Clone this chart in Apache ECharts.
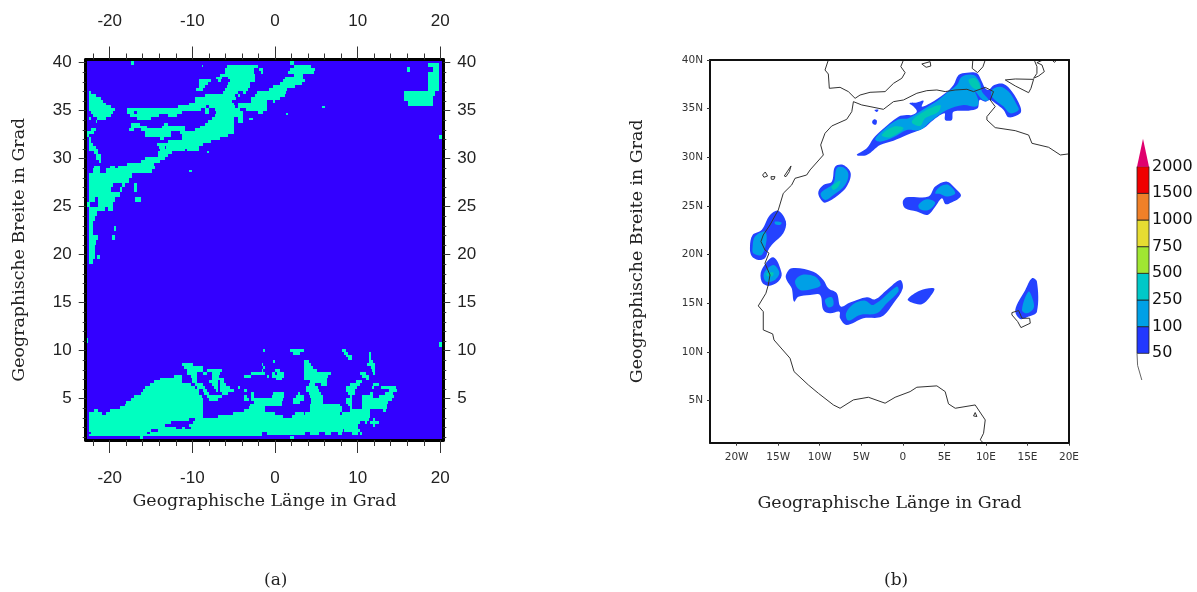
<!DOCTYPE html>
<html><head><meta charset="utf-8">
<script src="https://cdn.jsdelivr.net/npm/echarts@6/dist/echarts.min.js"></script>
<style>html,body{margin:0;background:#fff}#c{width:1197px;height:592px}</style></head>
<body><div id="c"></div>
<script>
// ---------- panel (a): teal cells, each row = [top latitude, lon from, lon to, lon from, lon to, ...]
const fineStep = 0.3;
const northRows = [
 [39.75,-5.85,-2, 2.3,4.35],
 [39.45,-6,-2.5, -1.95,-1.45, 1.8,4.85],
 [39.15,-6.1,-2.5, -1.7,-1.45, 1.6,4.75],
 [38.85,-6.7,-2.4, 2.3,3.4],
 [38.55,-7.1,-6.4, -5.65,-2.4, 1.2,3.4],
 [38.25,-9.2,-7.7, -6.9,-6.5, -5.45,-2.4, 1,3.6],
 [37.95,-9.2,-8.1, -5.65,-3, 0.6,3.3],
 [37.65,-9.2,-8.5, -5.85,-3, -0.2,2.4],
 [37.35,-9.5,-8.7, -6,-3.25, -0.7,1.4],
 [37.05,-22.5,-22.3, -6.3,-4.45, -3.85,-3.45, -2.2,1.3],
 [36.75,-22.5,-21.6, -8.5,-4.85, -4.5,-4.25, -2.4,1.2],
 [36.45,-22.5,-21, -9.7,-4.7, -2.9,0.6],
 [36.15,-22.5,-20.8, -9.7,-5.2, -2.9,-1, -0.2,0],
 [35.85,-22.5,-20.4, -10.4,-5, -4.45,-1],
 [35.55,-22.5,-19.8, -11.7,-8.3, -8,-4.85, -4.5,-1],
 [35.25,-22.5,-19.3, -17.9,-8.9, -8.5,-8, -7.2,-4.25, -3.45,-1],
 [34.95,-22.3,-19.6, -17.9,-17, -16.7,-11.3, -8.5,-8, -7.1,-3.85, -2,-1.4],
 [34.65,-22,-19.8, -17.5,-14, -12.9,-11.8, -7.3,-3.85],
 [34.35,-22.5,-22.3, -21.5,-20.5, -16.7,-15, -7.6,-4.9, -4.5,-3.85],
 [34.05,-21.7,-21.5, -8.1,-4.9, -4.5,-3.85],
 [33.75,-17.4,-16.3, -13.4,-13, -8.5,-4.9],
 [33.45,-17.4,-15.5, -13.7,-10.9, -9.1,-4.9],
 [33.15,-22.3,-21.7, -17.7,-17.1, -16.2,-10.9, -9.7,-4.9],
 [32.85,-22.8,-21.9, -15.7,-12.6, -11.5,-4.9],
 [32.55,-22.8,-22.5, -15.7,-12.6, -11.3,-5.7],
 [32.25,-22.5,-22.3, -13.9,-13.4, -11.3,-6.7],
 [31.95,-22.5,-22.3, -12.9,-7.7],
 [31.65,-22.5,-22, -14.3,-8.7],
 [31.35,-22.5,-21.7, -14,-13.3, -13.2,-9.2],
 [31.05,-22.5,-21.4, -13.9,-10.9, -10.7,-9.2],
 [30.75,-21.9,-21.4, -14.1,-12.5],
 [30.45,-21.7,-21, -14.2,-12.9],
 [30.15,-21.7,-21, -15.7,-13.3],
 [29.85,-21.3,-21, -16.2,-13.9],
 [29.55,-17.9,-14.6],
 [29.25,-21.9,-21.2, -20,-19.3, -19,-14.5]
];
const southRows = [
 [10.2,-1.45,-1.2, 1.8,3.45, 8.1,8.6],
 [9.9,2.2,3, 8.35,8.85, 11.35,11.6],
 [9.6,8.6,9.3, 11.35,11.6],
 [9.3,8.85,9.3, 11.35,11.6],
 [9,-0.2,0, 3.45,4.1, 11.35,11.85],
 [8.7,-11.3,-9.9, -1.55,-1.45, 3.45,4.35, 11.1,12.1],
 [8.4,-11,-8.7, -1.45,-1.2, 3.45,4.65, 11.6,12.1],
 [8.1,-10.65,-8.7, -8.25,-6.4, -1.55,-1.45, 0,0.6, 3.45,5.1, 11.75,12.1],
 [7.8,-10.65,-9.45, -8.7,-8.25, -7.65,-6.65, -2.9,-1.2, -0.35,0, 0.25,1.1, 3.45,6.75, 10.3,11, 11.85,12.1],
 [7.5,-12.2,-11.3, -10.2,-9.45, -7.65,-6.8, -3.75,-2.9, -1,-0.7, -0.35,1.1, 3.45,6.45, 10.5,11.35],
 [7.2,-13.9,-11.3, -10,-9.45, -7.65,-6.2, 0.1,0.85, 3.5,6.35, 11,11.35],
 [6.9,-14.6,-11.3, -10,-9.45, -8,-6.9, -6.65,-6.2, 4.25,6.35, 9.8,10.5],
 [6.6,-15.1,-10.2, -9.7,-8.7, -7.65,-6.9, -6.65,-5.95, 4.1,4.85, 5.55,6.35, 9.05,10.3, 11.85,12.6],
 [6.3,-15.7,-9.7, -9.45,-8.5, -7.4,-6.9, -6.65,-5.45, -4.5,-4.25, 3.75,5.25, 8.6,9.9, 11.75,12, 12.8,14.65],
 [6,-16,-9.2, -8.7,-8.25, -7.15,-6.9, -6.65,-5, -3.75,-3.4, 3.75,5.35, 8.6,9.7, 13.8,14.7],
 [5.7,-16.2,-9.2, -8.6,-8, -6.4,-5.7, -2.9,-2.6, -0.2,1.1, 2.8,3, 4.1,5.6, 8.85,9.7, 11.5,11.9, 13.3,14.3],
 [5.4,-17,-8.85, -8.25,-6.4, -3.8,-3.4, -2.9,-2.6, -0.35,1.1, 2.6,3.45, 4.25,5.85, 9.05,9.3, 10.5,11.9, 12.6,14.4],
 [5.1,-17.4,-8.7, -8,-6.85, -3.75,-3.2, -2.9,1, 2.2,3.45, 4.35,5.85, 8.6,9.3, 10.5,14.15],
 [4.8,-18,-8.7, -2.6,0.9, 2.2,3, 4.35,5.85, 8.6,9.3, 10.5,13.7],
 [4.5,-18.2,-8.7, -3,0.85, 4.25,7.85, 8.85,9.3, 10.5,13.5],
 [4.2,-18.8,-8.7, -3.2,-1.2, 4.25,8.1, 9.05,9.3, 10.5,13.5],
 [3.9,-21.9,-21.4, -20,-8.7, -3.75,-1.2, 4.25,8.1, 9.05,11.5, 13.1,13.4],
 [3.6,-22.5,-20.9, -20.5,-8.7, -5.1,0, 2.4,3.45, 3.65,7.85, 8.1,11.5],
 [3.3,-22.5,-8.7, -6.85,1, 2,11.5],
 [3,-22.5,-10.4, -9.7,11.35, 11.9,12.1],
 [2.7,-22.5,-12.6, -9.9,10.3, 10.9,11.1, 11.5,12.6],
 [2.4,-22.5,-13.3, -10.4,10.1, 11.9,12.1],
 [2.1,-22.5,-12, -11.3,-10.9, -10.2,10.1],
 [1.8,-22.5,-15, -14.2,8.25, 8.35,10.3],
 [1.5,-22.3,-15.5, -15.1,-1.6, -1,3.65, 4.25,5.3, 6.05,6.75, 7.6,8.1, 9.3,10, 10.3,10.5]
];
const coarseStep = 0.5;
const coarseRows = [
 [40,18.5,19.8],
 [39.5,16,16.3, 19.1,19.8],
 [39,18.5,19.8],
 [38.5,18.5,19.8],
 [38,18.5,19.8],
 [37.5,18.5,19.8],
 [37,15.6,19.35],
 [36.5,15.6,19.1],
 [36,16.1,19.1],
 [29,-22,-21.2, -20.4,-14.9],
 [28.5,-22.5,-17.3],
 [28,-22.5,-17.7],
 [27.5,-22.5,-19.6, -18.55,-18.1, -17,-16.7],
 [27,-22.5,-19.8, -18.8,-18.5, -17.1,-16.7],
 [26.5,-22.5,-18.75],
 [26,-22.5,-21.8, -21.4,-19.4, -16.9,-16.2],
 [25.5,-22.8,-22.4, -21.4,-19.6],
 [25,-22.5,-20.6, -20.2,-19.6],
 [24.5,-22.5,-21.5],
 [24,-22.5,-21.8],
 [23.5,-22.5,-22],
 [23,-22.5,-22, -19.5,-19.2],
 [22.5,-22.5,-22],
 [22,-22.5,-21.4, -19.7,-19.4],
 [21.5,-22.5,-21.6],
 [21,-22.5,-21.8],
 [20.5,-22.5,-21.8],
 [20,-22.5,-21.8, -21.5,-21.2],
 [19.5,-22.5,-22]
];
// [top latitude, bottom latitude, lon from, lon to]
const singleCells = [
 [40.18,39.76,-17.4,-17],[40.2,39.76,1.8,2.3],[39.75,39.55,-8.85,-8.7],
 [32.5,32,19.9,20.3],[11.3,10.8,-22.9,-22.6],[10.9,10.4,19.9,20.3],
 [28.8,28.6,-10.4,-10.1],[30.8,30.6,-8.2,-8],[34.8,34.6,1.3,1.55],[35.5,35.3,5.7,6],
 [34.25,34.05,-3.15,-2.7],[1.28,1.12,-22.5,-1.6],[1.12,0.72,-16.3,-16],[1.15,0.72,1.8,2.3]
];
// ---------- panel (b): contour polygons, [lon, lat] outlines per level
const level50 = [
 [[-5.54,30.24],[-4.34,30.92],[-3.53,31.95],[-2.53,32.81],[-0.52,34.18],[0.48,34.35],[1.08,34.35],[1.69,34.69],[1.29,35.21],[0.8,35.55],[1.69,35.62],[2.49,35.82],[2.29,35.21],[3.29,35.55],[5.1,36.58],[6.1,37.43],[6.71,38.46],[7.71,38.7],[8.92,38.63],[9.52,37.77],[9.92,37.09],[10.32,36.92],[11,37.43],[12.13,37.53],[13.13,36.75],[14.14,35.21],[14.14,34.52],[12.73,34.11],[12.13,34.86],[11.12,35.55],[10.52,35.89],[9.92,35.72],[9.24,35.89],[9,35.03],[7.91,34.79],[6.1,34.69],[5.9,33.84],[5.1,33.84],[5.02,34.52],[3.69,33.84],[2.49,32.98],[0.48,32.29],[-1.12,31.71],[-2.73,31.27],[-4.34,30.24]],
 [[-3.69,33.63],[-3.45,33.9],[-3.13,33.77],[-3.21,33.36],[-3.53,33.39]],
 [[-3.41,34.86],[-2.93,34.9],[-3.13,34.66]],
 [[-10.16,26.47],[-9.56,27.16],[-8.55,27.5],[-8.15,29.04],[-7.15,29.21],[-6.27,28.36],[-6.75,26.99],[-7.75,26.13],[-9.36,25.34],[-9.96,25.79]],
 [[0,25.45],[0.48,25.89],[3.09,25.96],[3.9,26.99],[5.3,27.5],[6.31,26.82],[6.99,26.03],[5.5,25.21],[5.1,25.21],[4.7,25.79],[3.9,24.93],[2.97,24.08],[1.69,24.42],[0.28,24.76]],
 [[-18.39,20.82],[-18.07,22.02],[-16.99,22.53],[-15.98,24.08],[-14.98,24.52],[-14.06,23.39],[-14.38,22.19],[-15.58,21.16],[-16.18,20.48],[-16.59,19.62],[-17.39,19.45],[-18.19,19.86]],
 [[-16.99,18.42],[-15.58,19.73],[-14.58,18.08],[-14.98,17.23],[-16.18,16.78],[-16.99,17.23]],
 [[-14.06,17.91],[-13.37,18.6],[-10.76,18.25],[-9.56,17.4],[-8.96,16.54],[-7.95,16.03],[-7.47,14.66],[-6.35,15.07],[-4.34,15.62],[-3.33,15.41],[-1.93,16.37],[-0.32,17.4],[0,16.54],[-1.12,15],[-2.53,13.63],[-4.74,13.46],[-6.75,12.77],[-7.55,13.46],[-7.63,14.14],[-8.76,13.97],[-9.56,14.32],[-9.96,15.86],[-11.16,15.86],[-12.57,15.68],[-13.09,15.17],[-13.37,16.54],[-13.98,17.4]],
 [[0.6,15.41],[2.09,16.3],[3.78,16.51],[3.29,15.68],[2.29,14.9],[1.08,15.07]],
 [[13.53,14.32],[14.74,16.37],[15.54,17.57],[16.14,17.23],[16.14,14.14],[15.14,13.63],[14.14,13.39]]
];
const level100 = [
 [[-3.33,31.85],[-2.33,32.81],[-0.52,33.9],[0.68,34.01],[2.49,34.93],[4.3,35.89],[5.5,36.75],[6.51,37.43],[7.11,38.29],[8.51,38.46],[9.32,37.6],[9.52,36.75],[10.32,35.89],[9.64,35.89],[8.71,36.75],[9.12,35.72],[8.84,35.21],[7.31,35.38],[5.3,34.86],[3.29,33.66],[2.09,32.81],[0.48,32.81],[-1.12,32.05],[-2.73,31.61]],
 [[10.72,36.92],[11.73,37.26],[12.73,36.75],[13.73,35.38],[13.94,34.86],[12.93,34.52],[12.13,35.21],[10.72,36.23]],
 [[-9.88,26.3],[-8.35,27.33],[-7.95,28.87],[-7.15,28.97],[-6.55,28.29],[-6.95,27.16],[-8.35,26.13],[-9.36,25.62]],
 [[1.89,25.1],[2.89,25.68],[3.9,25.34],[3.09,24.59],[2.09,24.66]],
 [[3.9,26.3],[4.5,26.99],[5.5,27.16],[6.31,26.3],[5.3,25.96],[4.5,26.23]],
 [[-18.07,20.82],[-17.79,21.85],[-16.59,22.36],[-16.39,21.51],[-16.99,19.97],[-17.99,20.14]],
 [[-15.38,23.39],[-14.58,23.29],[-14.78,23.05],[-15.38,23.15]],
 [[-16.71,18.08],[-15.58,18.94],[-14.86,18.15],[-15.38,17.4],[-16.47,17.23]],
 [[-12.97,17.23],[-12.17,17.91],[-10.56,17.74],[-9.88,16.88],[-10.56,16.54],[-12.37,16.37]],
 [[-9.36,15.34],[-8.55,15.62],[-8.35,14.83],[-8.96,14.59]],
 [[-6.83,13.97],[-5.94,14.93],[-4.54,15.27],[-3.53,14.83],[-0.72,16.71],[-0.52,16.2],[-1.93,15],[-3.13,13.97],[-5.14,13.8],[-6.55,13.22]],
 [[14.34,14.32],[15.14,16.2],[15.66,15.34],[15.74,14.49],[14.94,13.97]]
];
const level250 = [
 [[-2.53,32.29],[-1.12,33.15],[0.08,32.98],[-1.53,32.05]],
 [[1.08,33.66],[2.49,34.69],[4.5,35.38],[4.3,34.69],[2.69,34.01],[2.09,33.22]],
 [[7.91,37.95],[8.71,38.12],[9.32,37.09],[8.51,37.09]],
 [[-8.55,26.99],[-7.55,27.6],[-7.75,26.99],[-8.35,26.64]],
 [[-16.39,18.08],[-15.58,18.15],[-15.66,17.81],[-16.31,17.81]]
];
// ---------- panel (b): coastlines, [lon, lat]
const coastWest = [[-8.96,40],[-9.36,38.97],[-8.96,38.56],[-8.84,37.09],[-7.55,37.19],[-6.55,36.75],[-5.74,36.06],[-5.14,36.4],[-3.94,36.68],[-2.13,36.75],[-1.12,37.6],[-0.12,38.12],[0.28,38.7],[-0.24,39.32],[0.08,40]];
const coastAfrica = [[19.88,30.34],[18.96,30.24],[17.55,31.03],[15.54,31.44],[15.14,32.29],[13.53,32.74],[11.12,33.05],[10.12,33.84],[10.12,34.18],[11.12,35.21],[10.52,35.89],[10.92,36.75],[9.92,37.19],[8.51,36.75],[7.71,36.99],[6.31,36.92],[5.1,36.75],[4.1,36.92],[2.89,36.85],[1.69,36.58],[0.08,35.89],[-1.12,35.72],[-2.33,34.93],[-3.94,35.21],[-4.94,35.38],[-5.94,35.72],[-6.14,34.69],[-6.75,33.9],[-8.55,33.22],[-9.36,32.47],[-9.88,31.27],[-9.56,30.24],[-11.16,28.7],[-11.57,28.18],[-12.97,27.84],[-13.37,27.16],[-14.38,26.3],[-14.98,24.59],[-15.98,23.05],[-16.79,22.02],[-17.07,21.34],[-16.59,20.48],[-16.1,20.14],[-16.59,19.11],[-15.98,17.91],[-16.19,16.88],[-16.47,16.03],[-17.39,14.73],[-16.79,14.14],[-16.79,12.26],[-15.66,11.85],[-15.5,11.23],[-13.57,9.35],[-13.09,7.98],[-11.37,6.61],[-10.16,5.75],[-8.35,4.55],[-7.55,4.21],[-5.94,5.07],[-4.14,5.34],[-2.13,4.73],[-0.92,5.34],[0.88,5.92],[1.69,6.37],[4.1,6.51],[5.1,5.92],[5.5,4.66],[6.31,4.21],[8.71,4.55],[9.92,3.01],[9.72,1.64],[9.32,0.96],[9.64,0.69]];
const sardinia = [[8.43,40],[8.35,39.14],[9,38.7],[9.64,39.3],[9.92,40]];
const mallorca = [[2.29,39.59],[3.29,39.83],[3.37,39.38],[2.81,39.25],[2.29,39.59]];
const sicily = [[12.33,37.95],[13.54,37.33],[15.14,36.64],[15.42,37.09],[15.74,38.01],[13.54,38.05],[12.33,37.95]];
const italy = [[15.82,40],[16.14,39.32],[16.14,38.63],[15.74,38.12],[16.35,38.36],[17.03,38.8],[16.75,39.49],[16.14,39.73],[16.87,40]];
const heel = [[17.95,40],[18.23,39.76],[18.55,40]];
const canary1 = [[-16.87,28.18],[-16.55,28.49],[-16.27,28.08],[-16.71,27.95],[-16.87,28.18]];
const canary2 = [[-15.86,28.01],[-15.38,28.01],[-15.5,27.74],[-15.82,27.74],[-15.86,28.01]];
const canary3 = [[-14.26,28.08],[-13.45,29.11],[-13.65,28.53],[-14.06,28.01],[-14.26,28.08]];
const bioko = [[8.51,3.42],[8.71,3.77],[8.92,3.36],[8.71,3.26],[8.51,3.42]];
const lakeChad = [[13.13,14.04],[13.94,14.25],[14.34,13.46],[15.26,13.46],[15.34,12.95],[14.22,12.5],[13.82,13.12],[13.13,13.8],[13.13,14.04]];
const coasts = [coastWest,coastAfrica,sardinia,mallorca,sicily,italy,heel,canary1,canary2,canary3,bioko,lakeChad];
// ---------- tick labels
const lonMajorA = [-20,-10,0,10,20];
const lonMinorA = [-22,-18,-16,-14,-12,-8,-6,-4,-2,2,4,6,8,12,14,16,18];
const latMajorA = [5,10,15,20,25,30,35,40];
const latMinorA = [1,2,3,4,6,7,8,9,11,12,13,14,16,17,18,19,21,22,23,24,26,27,28,29,31,32,33,34,36,37,38,39];
const lonTicksB = [-20,-15,-10,-5,0,5,10,15,20];
const lonLabelsB = ['20W','15W','10W','5W','0','5E','10E','15E','20E'];
const latTicksB = [5,10,15,20,25,30,35,40];
const latLabelsB = ['5N','10N','15N','20N','25N','30N','35N','40N'];
// ---------- colour bar
const barLabels = ['50','100','250','500','750','1000','1500','2000'];
const barColors = ['#2238ff','#00a0e6','#00c8c8','#a0e632','#e6dc32','#f08028','#f00000'];
const tipColor = '#e0006e';
const xTitle = 'Geographische Länge in Grad';
const yTitle = 'Geographische Breite in Grad';

const blue='#3300ff', teal='#00ffc0', serif='DejaVu Serif', narrow='Liberation Sans', grads='DejaVu Sans';
const cellData=[];
const addRows=(rows,step)=>{for(const r of rows){for(let i=1;i<r.length;i+=2)cellData.push([r[0],r[0]-step,r[i],r[i+1]]);}};
addRows(northRows,fineStep);addRows(southRows,fineStep);addRows(coarseRows,coarseStep);
singleCells.forEach(c=>cellData.push(c));

function cellItem(p,api){
  const a=api.coord([api.value(2),api.value(0)]),b=api.coord([api.value(3),api.value(1)]);
  return {type:'rect',shape:{x:Math.round(a[0]),y:Math.round(a[1]),width:Math.round(b[0])-Math.round(a[0]),height:Math.round(b[1])-Math.round(a[1])},style:{fill:teal}};
}
function polySeries(list,color,z){
  return {type:'custom',xAxisIndex:4,yAxisIndex:4,z,clip:true,silent:true,animation:false,
    data:list.map((_,i)=>[i]),
    renderItem(p,api){return {type:'polygon',shape:{points:list[p.dataIndex].map(q=>api.coord(q)),smooth:0.35},style:{fill:color}};}};
}
const tickA=(vals,len,pos,extra)=>Object.assign({gridIndex:0,type:'value',position:pos,z:10,splitLine:{show:false},
  axisLine:{show:false,onZero:false},axisLabel:{show:false},
  axisTick:{show:true,length:len,customValues:vals,lineStyle:{color:'#333',width:1}}},extra||{});
const lineA={show:true,onZero:false,lineStyle:{color:'#000',width:3}};
const labA=(vals,margin)=>({show:true,customValues:vals,margin,color:'#222',fontFamily:narrow,fontSize:17});
const xR=[-22.9,20.36], yR=[0.7,40.33], xB=[-23.2,20], yB=[0.67,40];
const mx=o=>Object.assign({min:xR[0],max:xR[1]},o), my=o=>Object.assign({min:yR[0],max:yR[1]},o);
const lineB={show:true,onZero:false,lineStyle:{color:'#111',width:2}};
const tickB=v=>({show:true,length:3,customValues:v,lineStyle:{color:'#333',width:1}});
const labB=(v,names,margin)=>({show:true,customValues:v,margin,color:'#333',fontFamily:grads,fontSize:10.5,
  formatter:x=>names[v.indexOf(x)]});
const nameStyle={fontFamily:serif,fontSize:17.4,color:'#222'};

const option={
 animation:false,backgroundColor:'#fff',
 grid:[
  {left:85.7,top:59.5,width:357.6,height:380.5,show:true,backgroundColor:blue,borderWidth:0,containLabel:false},
  {left:710,top:60,width:359,height:382.7,containLabel:false},
  {left:1137,top:140,width:12,height:240,containLabel:false}
 ],
 xAxis:[
  tickA(lonMajorA,13,'bottom',mx({axisLine:lineA,axisLabel:labA(lonMajorA,30),name:xTitle,nameLocation:'middle',nameGap:53,nameTextStyle:nameStyle})),
  tickA(lonMinorA,6,'bottom',mx()),
  tickA(lonMajorA,13,'top',mx({axisLine:lineA,axisLabel:labA(lonMajorA,30)})),
  tickA(lonMinorA,6,'top',mx()),
  {gridIndex:1,type:'value',position:'bottom',min:xB[0],max:xB[1],z:10,splitLine:{show:false},axisLine:lineB,axisTick:tickB(lonTicksB),axisLabel:labB(lonTicksB,lonLabelsB,9),name:xTitle,nameLocation:'middle',nameGap:52,nameTextStyle:nameStyle},
  {gridIndex:1,type:'value',position:'top',min:xB[0],max:xB[1],z:10,splitLine:{show:false},axisLine:lineB,axisTick:{show:false},axisLabel:{show:false}},
  {gridIndex:2,type:'value',min:0,max:1,show:false}
 ],
 yAxis:[
  tickA(latMajorA,7,'left',my({axisLine:lineA,axisLabel:labA(latMajorA,14),name:yTitle,nameLocation:'middle',nameGap:58,nameTextStyle:nameStyle})),
  tickA(latMinorA,3,'left',my()),
  tickA(latMajorA,7,'right',my({axisLine:lineA,axisLabel:labA(latMajorA,14)})),
  tickA(latMinorA,3,'right',my()),
  {gridIndex:1,type:'value',position:'left',min:yB[0],max:yB[1],z:10,splitLine:{show:false},axisLine:lineB,axisTick:tickB(latTicksB),axisLabel:labB(latTicksB,latLabelsB,7),name:yTitle,nameLocation:'middle',nameGap:64,nameTextStyle:nameStyle},
  {gridIndex:1,type:'value',position:'right',min:yB[0],max:yB[1],z:10,splitLine:{show:false},axisLine:lineB,axisTick:{show:false},axisLabel:{show:false}},
  {gridIndex:2,type:'value',position:'right',min:-1,max:8,interval:1,splitLine:{show:false},axisLine:{show:false},axisTick:{show:false},
   axisLabel:{show:true,margin:3,color:'#111',fontFamily:grads,fontSize:16,formatter:v=>barLabels[v]||''}}
 ],
 series:[
  {type:'custom',xAxisIndex:0,yAxisIndex:0,clip:true,silent:true,animation:false,data:cellData,encode:{x:[2,3],y:[0,1]},renderItem:cellItem},
  polySeries(level50,'#2442ff',2),
  polySeries(level100,'#00a0e6',3),
  polySeries(level250,'#00c8b4',4),
  ...coasts.map(c=>({type:'line',xAxisIndex:4,yAxisIndex:4,z:5,clip:true,silent:true,animation:false,showSymbol:false,data:c,lineStyle:{color:'#333',width:1}})),
  {type:'custom',xAxisIndex:6,yAxisIndex:6,silent:true,animation:false,data:barColors.map((_,i)=>[i]),
   renderItem(p,api){
     const i=p.dataIndex,a=api.coord([0,i+1]),b=api.coord([1,i]);
     return {type:'rect',shape:{x:a[0],y:a[1],width:b[0]-a[0],height:b[1]-a[1]},style:{fill:barColors[i],stroke:'#222',lineWidth:0.8}};
   }},
  {type:'custom',xAxisIndex:6,yAxisIndex:6,silent:true,animation:false,data:[[7]],
   renderItem(p,api){
     return {type:'polygon',shape:{points:[api.coord([0,7]),api.coord([1,7]),api.coord([0.5,8.05])]},style:{fill:tipColor}};
   }},
  {type:'line',xAxisIndex:6,yAxisIndex:6,silent:true,animation:false,showSymbol:false,clip:false,data:[[0,0],[0.05,-0.45],[0.4,-1]],lineStyle:{color:'#666',width:1}}
 ],
 graphic:[
  {type:'text',left:264,top:572,style:{text:'(a)',font:'17px "DejaVu Serif"',fill:'#222'}},
  {type:'text',left:884,top:572,style:{text:'(b)',font:'17px "DejaVu Serif"',fill:'#222'}}
 ]
};
const chart=echarts.init(document.getElementById('c'),null,{renderer:'canvas'});
chart.setOption(option);
</script></body></html>
